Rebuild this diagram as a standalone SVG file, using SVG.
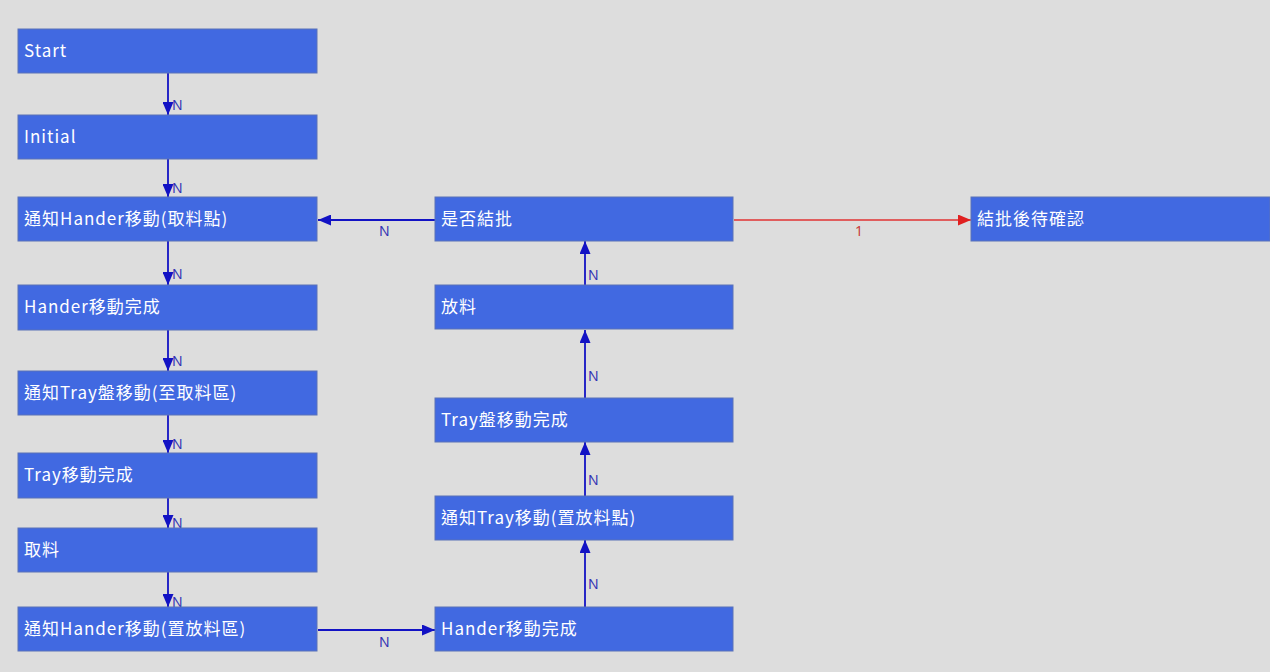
<svg xmlns="http://www.w3.org/2000/svg" width="1270" height="672" viewBox="0 0 1270 672">
<style>
.box{fill:#4169e1;stroke:#5b73b8;stroke-width:1}
.t{font-family:"Noto Sans CJK TC","Noto Sans",sans-serif;font-size:17px;letter-spacing:1px;fill:#ffffff}
.lb{font-family:"Noto Sans","Liberation Sans",sans-serif;font-size:14px;fill:#3434b4}
.lr{font-family:"Noto Sans","Liberation Sans",sans-serif;font-size:14px;fill:#c83c3c}
.c{stroke:#1212c4;stroke-width:1.8;fill:none}
.cr{stroke:#e03232;stroke-width:1.5;fill:none}
</style>
<defs>
<marker id="ab" markerUnits="userSpaceOnUse" markerWidth="13" markerHeight="11" refX="13" refY="5.5" orient="auto">
<path d="M0,0 L13,5.5 L0,11 z" fill="#1212c4"/>
</marker>
<marker id="ar" markerUnits="userSpaceOnUse" markerWidth="13" markerHeight="11" refX="13" refY="5.5" orient="auto">
<path d="M0,0 L13,5.5 L0,11 z" fill="#e02020"/>
</marker>
</defs>
<rect width="1270" height="672" fill="#dddddd"/>
<g id="connectors">
<line class="c" x1="168" y1="73" x2="168" y2="115" marker-end="url(#ab)"/>
<line class="c" x1="168" y1="159" x2="168" y2="197" marker-end="url(#ab)"/>
<line class="c" x1="168" y1="241" x2="168" y2="285" marker-end="url(#ab)"/>
<line class="c" x1="168" y1="330" x2="168" y2="371" marker-end="url(#ab)"/>
<line class="c" x1="168" y1="415" x2="168" y2="453" marker-end="url(#ab)"/>
<line class="c" x1="168" y1="498" x2="168" y2="528" marker-end="url(#ab)"/>
<line class="c" x1="168" y1="572" x2="168" y2="607" marker-end="url(#ab)"/>
<line class="c" x1="318" y1="630" x2="435" y2="630" marker-end="url(#ab)"/>
<line class="c" x1="585" y1="607" x2="585" y2="540" marker-end="url(#ab)"/>
<line class="c" x1="585" y1="496" x2="585" y2="442" marker-end="url(#ab)"/>
<line class="c" x1="585" y1="398" x2="585" y2="330" marker-end="url(#ab)"/>
<line class="c" x1="585" y1="285" x2="585" y2="241" marker-end="url(#ab)"/>
<line class="c" x1="435" y1="220" x2="318" y2="220" marker-end="url(#ab)"/>
<line class="cr" x1="734" y1="220" x2="971" y2="220" marker-end="url(#ar)"/>
<text class="lb" x="172" y="110">N</text>
<text class="lb" x="172" y="193">N</text>
<text class="lb" x="172" y="279">N</text>
<text class="lb" x="172" y="366">N</text>
<text class="lb" x="172" y="449">N</text>
<text class="lb" x="172" y="528">N</text>
<text class="lb" x="172" y="607">N</text>
<text class="lb" x="379" y="647">N</text>
<text class="lb" x="588" y="589">N</text>
<text class="lb" x="588" y="485">N</text>
<text class="lb" x="588" y="381">N</text>
<text class="lb" x="588" y="280">N</text>
<text class="lb" x="379" y="236">N</text>
<text class="lr" x="855" y="236">1</text>
</g>
<g id="n1"><rect class="box" x="18" y="29" width="299" height="44"/><text class="t" x="24" y="57">Start</text></g>
<g id="n2"><rect class="box" x="18" y="115" width="299" height="44"/><text class="t" x="24" y="143">Initial</text></g>
<g id="n3"><rect class="box" x="18" y="197" width="299" height="44"/><text class="t" x="24" y="225">通知Hander移動(取料點)</text></g>
<g id="n4"><rect class="box" x="18" y="285" width="299" height="45"/><text class="t" x="24" y="313">Hander移動完成</text></g>
<g id="n5"><rect class="box" x="18" y="371" width="299" height="44"/><text class="t" x="24" y="399">通知Tray盤移動(至取料區)</text></g>
<g id="n6"><rect class="box" x="18" y="453" width="299" height="45"/><text class="t" x="24" y="481">Tray移動完成</text></g>
<g id="n7"><rect class="box" x="18" y="528" width="299" height="44"/><text class="t" x="24" y="556">取料</text></g>
<g id="n8"><rect class="box" x="18" y="607" width="299" height="44"/><text class="t" x="24" y="635">通知Hander移動(置放料區)</text></g>
<g id="n9"><rect class="box" x="435" y="607" width="298" height="44"/><text class="t" x="441" y="635">Hander移動完成</text></g>
<g id="n10"><rect class="box" x="435" y="496" width="298" height="44"/><text class="t" x="441" y="524">通知Tray移動(置放料點)</text></g>
<g id="n11"><rect class="box" x="435" y="398" width="298" height="44"/><text class="t" x="441" y="426">Tray盤移動完成</text></g>
<g id="n12"><rect class="box" x="435" y="285" width="298" height="44"/><text class="t" x="441" y="313">放料</text></g>
<g id="n13"><rect class="box" x="435" y="197" width="298" height="44"/><text class="t" x="441" y="225">是否結批</text></g>
<g id="n14"><rect class="box" x="971" y="197" width="299" height="44"/><text class="t" x="977" y="225">結批後待確認</text></g>
</svg>
